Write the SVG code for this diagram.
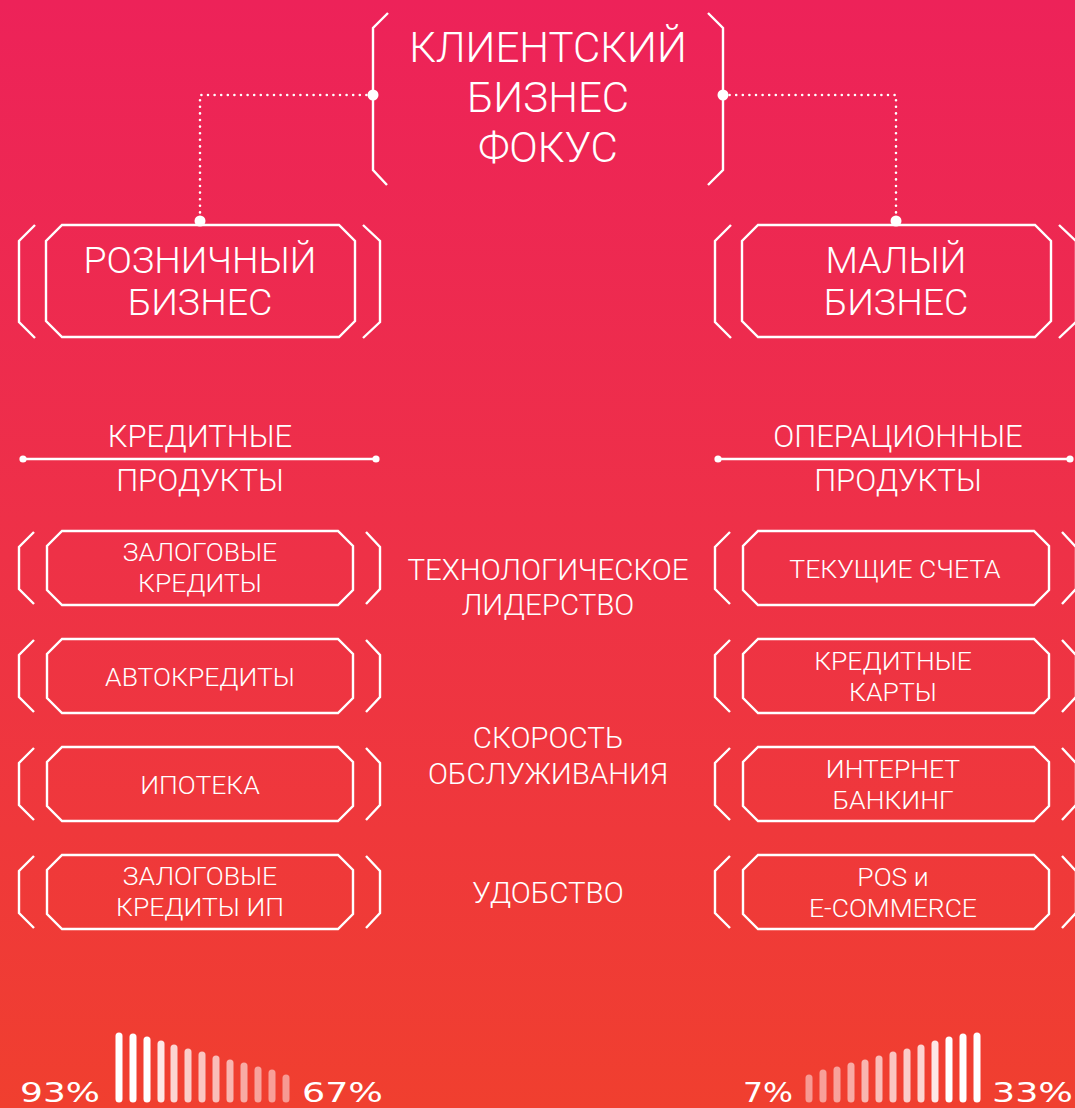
<svg xmlns="http://www.w3.org/2000/svg" width="1075" height="1108" viewBox="0 0 1075 1108">
<defs>
<linearGradient id="bg" x1="0" y1="0" x2="0" y2="1">
<stop offset="0" stop-color="#ED2259"/>
<stop offset="0.5" stop-color="#EE3147"/>
<stop offset="1" stop-color="#F03F2F"/>
</linearGradient>
<g id="pbox">
<path d="M62,0 H338 L353,15 V59 L338,74 H62 L47,59 V15 Z"/>
<path d="M34,1 L19,16 V58 L34,73"/>
<path d="M366,1 L380,16 V58 L366,73"/>
</g>
<g id="bbox">
<path d="M62,0 H339 L355,16 V96 L339,112 H62 L46,96 V16 Z"/>
<path d="M35,0 L19,16 V97 L35,113"/>
<path d="M363,0 L380,16 V97 L363,113"/>
</g>
</defs>
<style>
.ln{fill:none;stroke:#fff;stroke-width:2.4}
.ln path{fill:none;stroke:#fff;stroke-width:2.4}
.dot{fill:#fff}
.dash{fill:none;stroke:#fff;stroke-width:2.6;stroke-linecap:round;stroke-dasharray:0 6.6}
text{fill:#fff;font-family:Roboto,"Liberation Sans",sans-serif;font-weight:300;text-anchor:middle}
.t1{font-size:42px}
.t2{font-size:37.5px}
.t3{font-size:31px}
.t4{font-size:29.5px}
.t5{font-size:26.5px}
.pct{font-family:"DejaVu Sans",sans-serif;font-weight:400;font-size:26px;text-anchor:start}
.bar{stroke-width:7;stroke-linecap:round}
</style>
<rect width="1075" height="1108" fill="url(#bg)"/>

<g id="connectors">
<path class="dash" d="M373,95 H200 V222"/>
<path class="dash" d="M723,95 H896 V222"/>
<circle class="dot" cx="373" cy="95" r="5.5"/>
<circle class="dot" cx="723" cy="95" r="5.5"/>
<circle class="dot" cx="200" cy="221" r="5.5"/>
<circle class="dot" cx="896" cy="221" r="5.5"/>
</g>

<g id="title">
<path class="ln" d="M388,13 L373,28 V170 L387,185"/>
<path class="ln" d="M708,13 L723,28 V170 L708,185"/>
<text class="t1" x="548" y="62">КЛИЕНТСКИЙ</text>
<text class="t1" x="548" y="112">БИЗНЕС</text>
<text class="t1" x="548" y="162">ФОКУС</text>
</g>

<g id="retail">
<use href="#bbox" class="ln" transform="translate(0,225)"/>
<text class="t2" x="200" y="273">РОЗНИЧНЫЙ</text>
<text class="t2" x="200" y="315">БИЗНЕС</text>
</g>
<g id="small">
<use href="#bbox" class="ln" transform="translate(696,225)"/>
<text class="t2" x="896" y="273">МАЛЫЙ</text>
<text class="t2" x="896" y="315">БИЗНЕС</text>
</g>

<g id="credit-products">
<line class="ln" x1="23" y1="459" x2="376" y2="459"/>
<circle class="dot" cx="23" cy="459" r="3.6"/>
<circle class="dot" cx="376" cy="459" r="3.6"/>
<text class="t3" x="200" y="447">КРЕДИТНЫЕ</text>
<text class="t3" x="200" y="491">ПРОДУКТЫ</text>
</g>
<g id="operational-products">
<line class="ln" x1="718" y1="459" x2="1070" y2="459"/>
<circle class="dot" cx="718" cy="459" r="3.6"/>
<circle class="dot" cx="1070" cy="459" r="3.6"/>
<text class="t3" x="898" y="447">ОПЕРАЦИОННЫЕ</text>
<text class="t3" x="898" y="491">ПРОДУКТЫ</text>
</g>

<g id="l1">
<use href="#pbox" class="ln" transform="translate(0,531)"/>
<text class="t5" x="200" y="561">ЗАЛОГОВЫЕ</text>
<text class="t5" x="200" y="592">КРЕДИТЫ</text>
</g>
<g id="l2">
<use href="#pbox" class="ln" transform="translate(0,639)"/>
<text class="t5" x="200" y="686">АВТОКРЕДИТЫ</text>
</g>
<g id="l3">
<use href="#pbox" class="ln" transform="translate(0,747)"/>
<text class="t5" x="200" y="794">ИПОТЕКА</text>
</g>
<g id="l4">
<use href="#pbox" class="ln" transform="translate(0,855)"/>
<text class="t5" x="200" y="885">ЗАЛОГОВЫЕ</text>
<text class="t5" x="200" y="916">КРЕДИТЫ ИП</text>
</g>

<g id="r1">
<use href="#pbox" class="ln" transform="translate(696,531)"/>
<text class="t5" x="895" y="578">ТЕКУЩИЕ СЧЕТА</text>
</g>
<g id="r2">
<use href="#pbox" class="ln" transform="translate(696,639)"/>
<text class="t5" x="893" y="670">КРЕДИТНЫЕ</text>
<text class="t5" x="893" y="701">КАРТЫ</text>
</g>
<g id="r3">
<use href="#pbox" class="ln" transform="translate(696,747)"/>
<text class="t5" x="893" y="778">ИНТЕРНЕТ</text>
<text class="t5" x="893" y="809">БАНКИНГ</text>
</g>
<g id="r4">
<use href="#pbox" class="ln" transform="translate(696,855)"/>
<text class="t5" x="893" y="886">POS и</text>
<text class="t5" x="893" y="917">E-COMMERCE</text>
</g>

<g id="mid">
<text class="t4" x="548" y="580">ТЕХНОЛОГИЧЕСКОЕ</text>
<text class="t4" x="548" y="615">ЛИДЕРСТВО</text>
<text class="t4" x="548" y="748">СКОРОСТЬ</text>
<text class="t4" x="548" y="784">ОБСЛУЖИВАНИЯ</text>
<text class="t4" x="548" y="903">УДОБСТВО</text>
</g>

<g id="left-bars" stroke="#fff">
<line class="bar" x1="119" y1="1036" x2="119" y2="1099"/>
<line class="bar" x1="133" y1="1037" x2="133" y2="1099"/>
<line class="bar" x1="147" y1="1040" x2="147" y2="1099"/>
<line class="bar" x1="161" y1="1044" x2="161" y2="1099" stroke-opacity="0.88"/>
<line class="bar" x1="174" y1="1048" x2="174" y2="1099" stroke-opacity="0.78"/>
<line class="bar" x1="188" y1="1052" x2="188" y2="1099" stroke-opacity="0.74"/>
<line class="bar" x1="202" y1="1055" x2="202" y2="1099" stroke-opacity="0.7"/>
<line class="bar" x1="216" y1="1059" x2="216" y2="1099" stroke-opacity="0.66"/>
<line class="bar" x1="230" y1="1063" x2="230" y2="1099" stroke-opacity="0.62"/>
<line class="bar" x1="244" y1="1066" x2="244" y2="1099" stroke-opacity="0.56"/>
<line class="bar" x1="258" y1="1070" x2="258" y2="1099" stroke-opacity="0.52"/>
<line class="bar" x1="272" y1="1073" x2="272" y2="1099" stroke-opacity="0.5"/>
<line class="bar" x1="286" y1="1078" x2="286" y2="1099" stroke-opacity="0.48"/>
</g>
<g id="right-bars" stroke="#fff">
<line class="bar" x1="809" y1="1078" x2="809" y2="1099" stroke-opacity="0.48"/>
<line class="bar" x1="823" y1="1073" x2="823" y2="1099" stroke-opacity="0.5"/>
<line class="bar" x1="837" y1="1070" x2="837" y2="1099" stroke-opacity="0.52"/>
<line class="bar" x1="851" y1="1066" x2="851" y2="1099" stroke-opacity="0.56"/>
<line class="bar" x1="865" y1="1063" x2="865" y2="1099" stroke-opacity="0.62"/>
<line class="bar" x1="879" y1="1059" x2="879" y2="1099" stroke-opacity="0.66"/>
<line class="bar" x1="893" y1="1055" x2="893" y2="1099" stroke-opacity="0.7"/>
<line class="bar" x1="907" y1="1052" x2="907" y2="1099" stroke-opacity="0.74"/>
<line class="bar" x1="921" y1="1048" x2="921" y2="1099" stroke-opacity="0.78"/>
<line class="bar" x1="935" y1="1044" x2="935" y2="1099" stroke-opacity="0.88"/>
<line class="bar" x1="949" y1="1040" x2="949" y2="1099"/>
<line class="bar" x1="963" y1="1037" x2="963" y2="1099"/>
<line class="bar" x1="977" y1="1036" x2="977" y2="1099"/>
</g>
<g id="percents">
<text class="pct" x="20" y="1102" textLength="80" lengthAdjust="spacingAndGlyphs">93%</text>
<text class="pct" x="302" y="1102" textLength="81" lengthAdjust="spacingAndGlyphs">67%</text>
<text class="pct" x="743" y="1102" textLength="50" lengthAdjust="spacingAndGlyphs">7%</text>
<text class="pct" x="992" y="1102" textLength="81" lengthAdjust="spacingAndGlyphs">33%</text>
</g>
</svg>
